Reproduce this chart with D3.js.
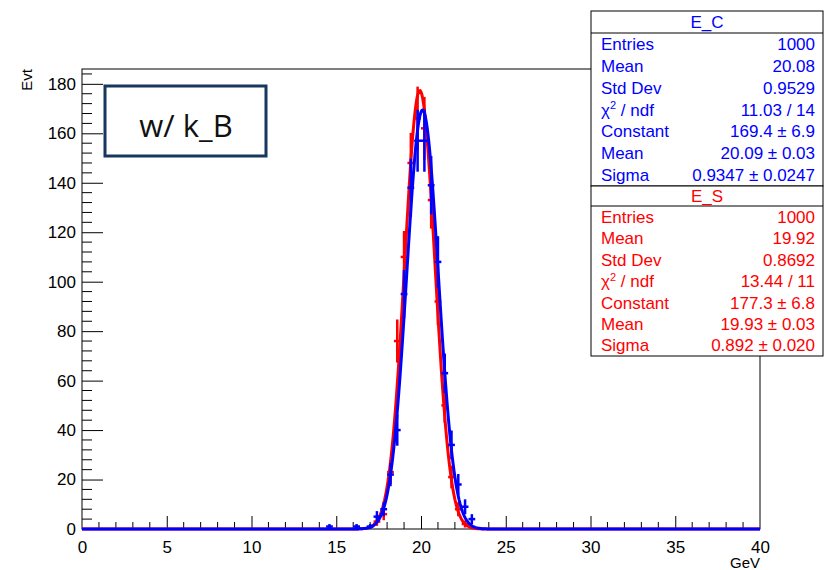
<!DOCTYPE html>
<html>
<head>
<meta charset="utf-8">
<script src="https://cdn.jsdelivr.net/npm/d3@7"></script>
<style>
	body { margin: 0; background: #fff; }
	svg { display: block; font-family: "Liberation Sans", Arial, Helvetica, sans-serif; }
</style>
</head>
<body>
<div id="chart"></div>
<script>
// Histogram bins (0.4 GeV wide), only non-empty bins listed
var binWidth = 0.4;
var ecCenters = [14.6, 16.2, 17.0, 17.4, 17.8, 18.2, 18.6, 19.0, 19.4, 19.8, 20.2, 20.6, 21.0, 21.4, 21.8, 22.2, 22.6, 23.0];
var ecCounts  = [1, 1, 1, 5, 8, 22, 40, 95, 138, 157, 157, 139, 108, 63, 34, 18, 9, 4];
var esCenters = [17.4, 17.8, 18.2, 18.6, 19.0, 19.4, 19.8, 20.2, 20.6, 21.0, 21.4, 21.8, 22.2, 22.6];
var esCounts  = [3, 6, 23, 76, 110, 148, 166, 162, 133, 92, 50, 21, 8, 2];

// Gaussian fit parameters: constant, mean, sigma
var ecFit = [169.4, 20.09, 0.9347];
var esFit = [177.3, 19.93, 0.892];

// Stats boxes
var statNames = ["Entries", "Mean", "Std Dev", "chi2", "Constant", "Mean", "Sigma"];
var ecStats = ["1000", "20.08", "0.9529", "11.03 / 14", "169.4 \u00b1 6.9", "20.09 \u00b1 0.03", "0.9347 \u00b1 0.0247"];
var esStats = ["1000", "19.92", "0.8692", "13.44 / 11", "177.3 \u00b1 6.8", "19.93 \u00b1 0.03", "0.892 \u00b1 0.020"];

var xTicks = [0, 5, 10, 15, 20, 25, 30, 35, 40];
var yTicks = [0, 20, 40, 60, 80, 100, 120, 140, 160, 180];

var width = 824, height = 570;
var frame = {left: 82, right: 760, top: 69, bottom: 529};

var svg = d3.select("#chart").append("svg")
		.attr("width", width)
		.attr("height", height);

var x = d3.scaleLinear().domain([0, 40]).range([frame.left, frame.right]);
var y = d3.scaleLinear().domain([0, 186]).range([frame.bottom, frame.top]);

// Frame
svg.append("rect")
		.attr("x", frame.left).attr("y", frame.top)
		.attr("width", frame.right - frame.left).attr("height", frame.bottom - frame.top)
		.attr("fill", "none").attr("stroke", "#000").attr("stroke-width", 1);

// Axes (ROOT style ticks inside the frame)
var xAxis = d3.axisBottom(x).tickValues(xTicks).tickSize(-13).tickPadding(12).tickFormat(d3.format("d"));
var gx = svg.append("g").attr("transform", "translate(0," + frame.bottom + ")").call(xAxis);
gx.selectAll("line").filter(function(d) { return d === 0 || d === 40; }).remove();
gx.selectAll("text").attr("font-size", 17).attr("fill", "#000");
gx.select(".domain").remove();
gx.selectAll(".minor").data(d3.range(1, 40).filter(function(d) { return d % 5 !== 0; }))
	.enter().append("line")
		.attr("x1", function(d) { return x(d); }).attr("x2", function(d) { return x(d); })
		.attr("y1", 0).attr("y2", -7)
		.attr("stroke", "#000");

var yAxis = d3.axisLeft(y).tickValues(yTicks).tickSize(-21).tickPadding(6).tickFormat(d3.format("d"));
var gy = svg.append("g").attr("transform", "translate(" + frame.left + ",0)").call(yAxis);
gy.selectAll("line").filter(function(d) { return d === 0; }).remove();
gy.selectAll("text").attr("font-size", 17).attr("fill", "#000");
gy.select(".domain").remove();
gy.selectAll(".minor").data(d3.range(4, 186, 4).filter(function(d) { return d % 20 !== 0; }))
	.enter().append("line")
		.attr("y1", function(d) { return y(d); }).attr("y2", function(d) { return y(d); })
		.attr("x1", 0).attr("x2", 10)
		.attr("stroke", "#000");

// Axis titles
svg.append("text")
		.attr("x", frame.right).attr("y", 568)
		.attr("text-anchor", "end").attr("font-size", 15)
		.text("GeV");
svg.append("text")
		.attr("transform", "translate(32," + frame.top + ") rotate(-90)")
		.attr("text-anchor", "end").attr("font-size", 15)
		.text("Evt");

// Histogram with error bars + fitted gaussian
function drawHist(centers, counts, fit, color) {
	var g = svg.append("g");
	var bins = centers.map(function(c, i) { return {c: c, n: counts[i]}; });

	g.selectAll(".herr").data(bins).enter().append("line")
			.attr("x1", function(d) { return x(d.c - binWidth / 2); })
			.attr("x2", function(d) { return x(d.c + binWidth / 2); })
			.attr("y1", function(d) { return y(d.n); })
			.attr("y2", function(d) { return y(d.n); })
			.attr("stroke", color).attr("stroke-width", 2.5);

	g.selectAll(".verr").data(bins).enter().append("line")
			.attr("x1", function(d) { return x(d.c); })
			.attr("x2", function(d) { return x(d.c); })
			.attr("y1", function(d) { return y(Math.max(0, d.n - Math.sqrt(d.n))); })
			.attr("y2", function(d) { return y(d.n + Math.sqrt(d.n)); })
			.attr("stroke", color).attr("stroke-width", 2.5);

	var gaus = function(v) {
		return fit[0] * Math.exp(-0.5 * Math.pow((v - fit[1]) / fit[2], 2));
	};
	var line = d3.line()
			.x(function(v) { return x(v); })
			.y(function(v) { return y(gaus(v)); });

	g.append("path")
			.datum(d3.range(0, 40.001, 0.05))
			.attr("d", line)
			.attr("fill", "none")
			.attr("stroke", color)
			.attr("stroke-width", 3);
}

drawHist(esCenters, esCounts, esFit, "#ff0000");
drawHist(ecCenters, ecCounts, ecFit, "#0000ff");

// Label box
svg.append("rect")
		.attr("x", 105).attr("y", 86)
		.attr("width", 161).attr("height", 70)
		.attr("fill", "#fff").attr("stroke", "#17375e").attr("stroke-width", 3);
svg.append("text")
		.attr("x", 186).attr("y", 137)
		.attr("text-anchor", "middle")
		.attr("font-family", "'Open Sans', 'Liberation Sans', sans-serif")
		.attr("font-size", 31).attr("fill", "#111")
		.text("w/ k_B");

// Stats boxes
function drawStats(top, h, titleH, title, values, color) {
	var g = svg.append("g");
	var left = 591, right = 823;
	g.append("rect")
			.attr("x", left).attr("y", top)
			.attr("width", right - left).attr("height", h)
			.attr("fill", "#fff").attr("stroke", "#000").attr("stroke-width", 1);
	g.append("line")
			.attr("x1", left).attr("x2", right)
			.attr("y1", top + titleH).attr("y2", top + titleH)
			.attr("stroke", "#000");
	g.append("text")
			.attr("x", (left + right) / 2).attr("y", top + titleH / 2)
			.attr("dy", "0.36em").attr("text-anchor", "middle")
			.attr("font-size", 17).attr("fill", color)
			.text(title);

	var rowH = (h - titleH) / statNames.length;
	statNames.forEach(function(name, i) {
		var cy = top + titleH + rowH * (i + 0.5);
		var t = g.append("text")
				.attr("x", left + 10).attr("y", cy).attr("dy", "0.36em")
				.attr("font-size", 17).attr("fill", color);
		if (name === "chi2") {
			t.append("tspan").text("\u03c7");
			t.append("tspan").attr("font-size", 11).attr("dy", "-0.6em").text("2");
			t.append("tspan").attr("dy", "0.4em").text(" / ndf");
		} else {
			t.text(name);
		}
		g.append("text")
				.attr("x", right - 8).attr("y", cy).attr("dy", "0.36em")
				.attr("text-anchor", "end")
				.attr("font-size", 17).attr("fill", color)
				.text(values[i]);
	});
}

drawStats(11, 175, 22, "E_C", ecStats, "#0000ff");
drawStats(186, 170, 20, "E_S", esStats, "#ff0000");
</script>
</body>
</html>
